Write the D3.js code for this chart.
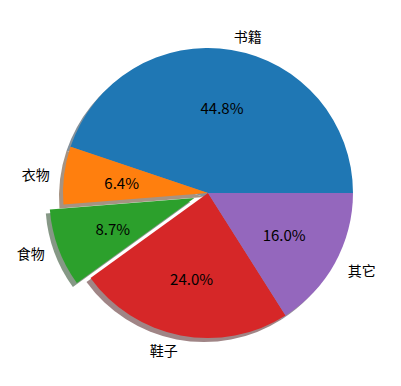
<!DOCTYPE html>
<html><head><meta charset="utf-8">
<script src="https://cdn.jsdelivr.net/npm/d3@7"></script>
<style>body{margin:0;background:#fff}svg{display:block}</style>
</head><body>
<svg id="c" width="401" height="386"></svg>
<script>
const categories = ["书籍", "衣物", "食物", "鞋子", "其它"];
const values = [44.8, 6.4, 8.7, 24.0, 16.0];
const explode = [0, 0, 0.1, 0, 0];
const colors = ["#1f77b4", "#ff7f0e", "#2ca02c", "#d62728", "#9467bd"];

const svg = d3.select("#c");
const cx = 208, cy = 193, R = 145;
const g = svg.append("g").attr("transform", `translate(${cx},${cy})`);

const pie = d3.pie().sort(null).value(d => d)
  .startAngle(Math.PI / 2).endAngle(Math.PI / 2 - 2 * Math.PI);
const arcs = pie(values);
const arc = d3.arc().innerRadius(0).outerRadius(R);

function offset(a, i) {
  const mid = (a.startAngle + a.endAngle) / 2;
  const e = explode[i] * R;
  return [Math.sin(mid) * e, -Math.cos(mid) * e];
}
function shade(c) {
  const col = d3.rgb(c);
  return d3.rgb(0.5 * col.r * 0.3 + 127.5, 0.5 * col.g * 0.3 + 127.5, 0.5 * col.b * 0.3 + 127.5);
}
const sx = -4, sy = 4;
g.selectAll("path.sh").data(arcs).join("path").attr("class", "sh")
  .attr("d", arc)
  .attr("fill", (d, i) => shade(colors[i]))
  .attr("transform", (d, i) => { const o = offset(d, i); return `translate(${o[0] + sx},${o[1] + sy})`; });
g.selectAll("path.w").data(arcs).join("path").attr("class", "w")
  .attr("d", arc)
  .attr("fill", (d, i) => colors[i])
  .attr("transform", (d, i) => { const o = offset(d, i); return `translate(${o[0]},${o[1]})`; });

const font = "'Noto Sans CJK SC', sans-serif";
arcs.forEach((d, i) => {
  const mid = (d.startAngle + d.endAngle) / 2;
  const o = offset(d, i);
  const ux = Math.sin(mid), uy = -Math.cos(mid);
  const lx = o[0] + ux * 1.1 * R, ly = o[1] + uy * 1.1 * R;
  g.append("text").attr("x", lx).attr("y", ly)
    .attr("text-anchor", ux > 0 ? "start" : "end")
    .attr("dominant-baseline", "central")
    .style("font-family", font).style("font-size", "14px").attr("fill", "#000")
    .text(categories[i]);
  const px = o[0] + ux * 0.6 * R, py = o[1] + uy * 0.6 * R;
  g.append("text").attr("x", px).attr("y", py)
    .attr("text-anchor", "middle").attr("dominant-baseline", "central")
    .style("font-family", font).style("font-size", "15px").attr("fill", "#000")
    .text(values[i].toFixed(1) + "%");
});
</script>
</body></html>
